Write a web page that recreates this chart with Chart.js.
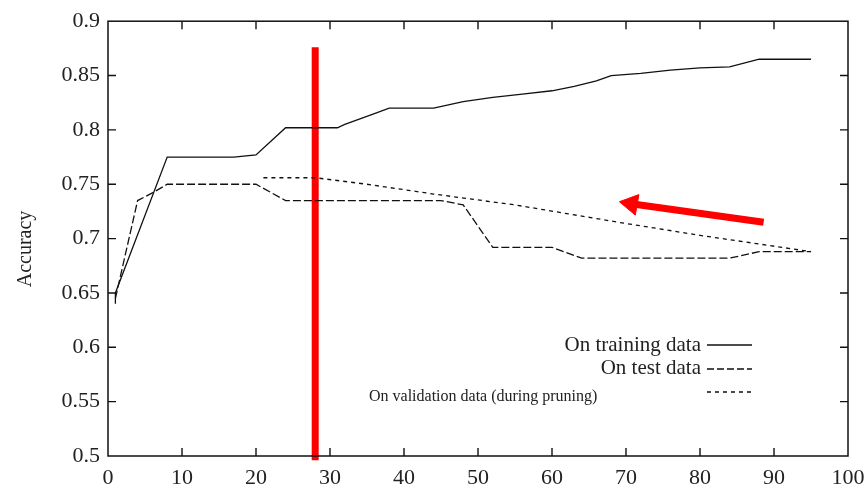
<!DOCTYPE html>
<html>
<head>
<meta charset="utf-8">
<script src="https://cdn.jsdelivr.net/npm/chart.js@4.4.1/dist/chart.umd.min.js"></script>
<style>
  body { margin: 0; background: #fff; }
  #wrap { width: 867px; height: 490px; }
</style>
</head>
<body>
<div id="wrap"><canvas id="chart" width="867" height="490"></canvas></div>
<script>
// training curve
const trainX = [1, 1, 8, 17, 20, 24, 31, 32, 36, 38, 44, 48, 52, 56, 60, 63, 66, 68, 72, 76, 80, 84, 88, 95];
const trainY = [0.64, 0.65, 0.775, 0.775, 0.777, 0.802, 0.802, 0.805, 0.815, 0.82, 0.82, 0.826, 0.83, 0.833, 0.836, 0.84, 0.845, 0.85, 0.852, 0.855, 0.857, 0.858, 0.865, 0.865];

// test curve
const testX = [1, 4, 6, 8, 20, 24, 45, 48, 52, 60, 64, 84, 88, 95];
const testY = [0.645, 0.735, 0.742, 0.75, 0.75, 0.735, 0.735, 0.731, 0.692, 0.692, 0.682, 0.682, 0.688, 0.688];

// validation curve (during pruning)
const validX = [21, 28, 35, 44, 55, 62, 69, 80, 88, 95];
const validY = [0.756, 0.756, 0.75, 0.741, 0.731, 0.723, 0.715, 0.703, 0.695, 0.688];

// red marks drawn over the plot
const cutX = [28, 28];
const cutY = [0.876, 0.496];
const arrowX = [88.6, 70.7];
const arrowY = [0.715, 0.732];

const legendLabels = ["On training data", "On test data", "On validation data (during pruning)"];
const yTitle = "Accuracy";

const serif = '"Liberation Serif", "DejaVu Serif", serif';

function pts(xs, ys) {
  return xs.map((x, i) => ({ x: x, y: ys[i] }));
}

// gnuplot style frame, inner ticks, y title and legend
const framePlugin = {
  id: "frame",
  afterDraw(chart) {
    const ctx = chart.ctx;
    const a = chart.chartArea;
    const xs = chart.scales.x;
    const ys = chart.scales.y;
    ctx.save();
    ctx.strokeStyle = "#111";
    ctx.lineWidth = 1.5;
    ctx.strokeRect(a.left, a.top, a.right - a.left, a.bottom - a.top);

    ctx.lineWidth = 1.4;
    ctx.beginPath();
    xs.ticks.forEach(t => {
      if (t.value <= xs.min || t.value >= xs.max) return;
      const px = xs.getPixelForValue(t.value);
      ctx.moveTo(px, a.bottom); ctx.lineTo(px, a.bottom - 8);
      ctx.moveTo(px, a.top); ctx.lineTo(px, a.top + 8);
    });
    ys.ticks.forEach(t => {
      if (t.value <= ys.min + 1e-9 || t.value >= ys.max - 1e-9) return;
      const py = ys.getPixelForValue(t.value);
      ctx.moveTo(a.left, py); ctx.lineTo(a.left + 8, py);
      ctx.moveTo(a.right, py); ctx.lineTo(a.right - 8, py);
    });
    ctx.stroke();

    ctx.fillStyle = "#222";
    ctx.textBaseline = "middle";

    // y axis title
    ctx.save();
    ctx.translate(26, 249);
    ctx.rotate(-Math.PI / 2);
    ctx.textAlign = "center";
    ctx.font = "20px " + serif;
    ctx.fillText(yTitle, 0, 0);
    ctx.restore();

    // legend
    ctx.font = "21px " + serif;
    ctx.textAlign = "right";
    ctx.fillText(legendLabels[0], 701, 345);
    ctx.fillText(legendLabels[1], 701, 368);
    ctx.font = "16px " + serif;
    ctx.textAlign = "left";
    ctx.fillText(legendLabels[2], 369, 397);

    const samples = [[345, []], [369, [7, 3]], [392, [4, 4]]];
    ctx.strokeStyle = "#111";
    ctx.lineWidth = 1.3;
    samples.forEach(s => {
      ctx.setLineDash(s[1]);
      ctx.beginPath();
      ctx.moveTo(707, s[0]);
      ctx.lineTo(752, s[0]);
      ctx.stroke();
    });
    ctx.restore();
  }
};

new Chart(document.getElementById("chart"), {
  type: "line",
  data: {
    datasets: [
      {
        label: legendLabels[0],
        data: pts(trainX, trainY),
        borderColor: "#111",
        borderWidth: 1.3,
        pointRadius: 0,
        tension: 0
      },
      {
        label: legendLabels[1],
        data: pts(testX, testY),
        borderColor: "#111",
        borderWidth: 1.3,
        borderDash: [8, 3],
        pointRadius: 0,
        tension: 0
      },
      {
        label: legendLabels[2],
        data: pts(validX, validY),
        borderColor: "#111",
        borderWidth: 1.3,
        borderDash: [4, 4],
        pointRadius: 0,
        tension: 0
      },
      {
        label: "cut",
        data: pts(cutX, cutY),
        borderColor: "#ff0000",
        borderWidth: 7,
        borderCapStyle: "butt",
        pointRadius: 0,
        clip: false
      },
      {
        label: "arrow",
        data: pts(arrowX, arrowY),
        borderColor: "#ff0000",
        borderWidth: 7,
        pointRadius: [0, 12],
        pointStyle: "triangle",
        pointRotation: -80,
        pointBackgroundColor: "#ff0000",
        pointBorderColor: "#ff0000",
        pointBorderWidth: 1,
        clip: false
      }
    ]
  },
  options: {
    responsive: false,
    animation: false,
    events: [],
    layout: { padding: { top: 17, right: 19, left: 0, bottom: 0 } },
    plugins: {
      legend: { display: false },
      tooltip: { enabled: false }
    },
    scales: {
      x: {
        type: "linear",
        min: 0,
        max: 100,
        ticks: {
          stepSize: 10,
          padding: 9,
          color: "#222",
          font: { family: serif, size: 22 }
        },
        grid: { display: false, drawTicks: false },
        border: { display: false },
        afterFit(scale) {
          scale.height = 34;
          scale.paddingLeft = 0;
          scale.paddingRight = 0;
        }
      },
      y: {
        min: 0.5,
        max: 0.9,
        ticks: {
          stepSize: 0.05,
          padding: 8,
          color: "#222",
          font: { family: serif, size: 22 },
          callback: v => String(+v.toFixed(2))
        },
        grid: { display: false, drawTicks: false },
        border: { display: false },
        afterFit(scale) { scale.width = 108; }
      }
    }
  },
  plugins: [framePlugin]
});
</script>
</body>
</html>
